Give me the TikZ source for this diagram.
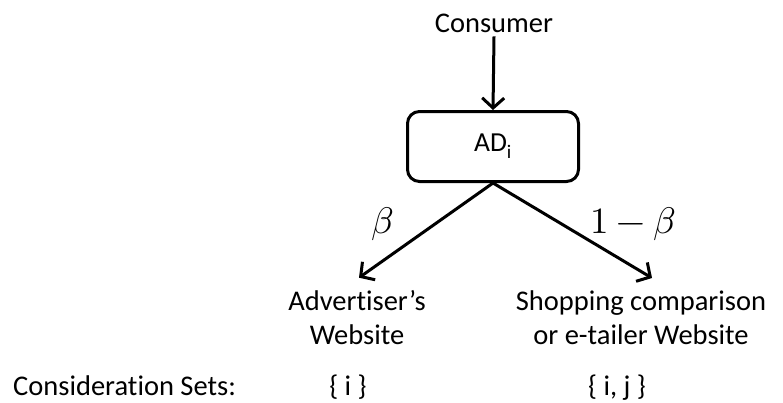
\documentclass[tikz,border=0pt]{standalone}
\usepackage{fontspec}
\usepackage{unicode-math}
\setmainfont{Carlito}[Ligatures={NoCommon}]
\setmathfont{Latin Modern Math}
\usetikzlibrary{arrows.meta,calc}
\begin{document}
\begin{tikzpicture}[x=1pt,y=-1pt,
  lbl/.style={font=\fontsize{28.5}{34}\selectfont, inner sep=0pt, align=center},
  mlbl/.style={font=\fontsize{37}{40}\selectfont, inner sep=0pt},
  adbox/.style={draw, line width=3pt, rounded corners=12pt, minimum width=171pt,
    minimum height=70pt, inner sep=0pt, font=\fontsize{27.5}{30}\selectfont},
  flow/.style={line width=3pt, -{Straight Barb[length=10pt,width=22pt]}}]
\useasboundingbox (0,0) rectangle (783,402);

% the consumer and the ad
\node[lbl, anchor=base] (consumer) at (494,32) {Consumer};
\node[adbox] (ad) at (493,146.5) {AD\textsubscript{i}};

% the two destinations (base anchor sits on the last line)
\node[lbl, anchor=base] (adv) at (357,344) {Advertiser’s\\Website};
\node[lbl, anchor=base] (shop) at (641,344) {Shopping comparison\\or e-tailer Website};

% arrow tips just above the destination texts
\coordinate (advtip) at ($(adv.north)+(2,-12)$);
\coordinate (shoptip) at ($(shop.north)+(11,-12)$);

% branch probabilities
\node[mlbl, anchor=base] (beta) at (383,233) {$\beta$};
\node[mlbl, anchor=base] (obeta) at (633,233) {$1-\beta$};

% consideration sets row
\node[lbl, anchor=base west] (cs) at (13,395) {Consideration Sets:};
\node[lbl, anchor=base] (setA) at (348,395) {\{ i \}};
\node[lbl, anchor=base] (setB) at (617,395) {\{ i, j \}};

% connectors
\draw[flow] (consumer.south) ++(0,4) coordinate (ctop) -- (ad.north);
\draw[flow] (ad.south) -- (advtip);
\draw[flow] (ad.south) -- (shoptip);
\end{tikzpicture}
\end{document}
